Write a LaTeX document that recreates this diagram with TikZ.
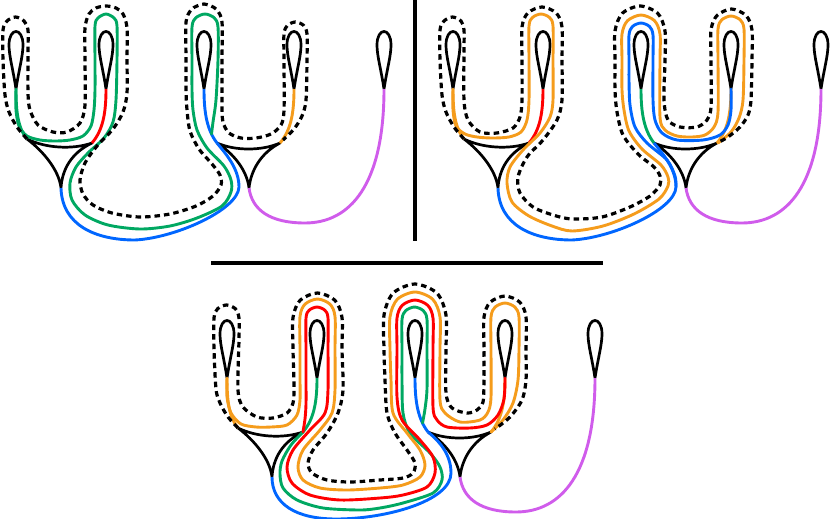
\documentclass[tikz,border=0pt]{standalone}
\definecolor{cgreen}{RGB}{0,168,98}
\definecolor{cred}{RGB}{255,0,0}
\definecolor{cblue}{RGB}{0,102,255}
\definecolor{corange}{RGB}{245,156,28}
\definecolor{cpurple}{RGB}{208,92,235}
\tikzset{
  skel/.style={line width=2.7pt,black,line join=round},
  edge/.style={line width=2.9pt,line join=round},
  crv/.style={line width=2.9pt,line join=round,line cap=round},
  dsh/.style={line width=3.2pt,black,dash pattern=on 5.5pt off 4pt},
  divider/.style={line width=4.2pt,black},
  teardrop/.pic={\draw[skel] (0,0) .. controls (-3,-20) and (-7,-33) .. (-7,-44) .. controls (-7,-62) and (7,-62) .. (7,-44) .. controls (7,-33) and (3,-20) .. (0,0);}
}
\newcommand\skeleton[4]{%
  \coordinate (La) at (16,89); \coordinate (Lb) at (106,89); \coordinate (Lc) at (204,89);
  \coordinate (Ld) at (294,89); \coordinate (Le) at (384,89);
  \coordinate (Pl) at (27,139); \coordinate (Pr) at (92,143); \coordinate (Pb) at (61,188);
  \coordinate (Ql) at (217,143); \coordinate (Qr) at (280,143); \coordinate (Qb) at (249,188);
  \foreach \p in {La,Lb,Lc,Ld,Le}{\pic at (\p) {teardrop};}
  \draw[skel] (Pl) .. controls (45,148) and (72,150) .. (Pr) .. controls (71,153) and (62,170) .. (Pb) .. controls (59,170) and (43,151) .. (Pl);
  \draw[skel] (Ql) .. controls (235,151) and (262,151) .. (Qr) .. controls (261,153) and (251,170) .. (Qb) .. controls (247,170) and (233,153) .. (Ql);
  \draw[edge,#1] (La) .. controls (16,112) and (18,128) .. (Pl);
  \draw[edge,#2] (Lb) .. controls (106,113) and (103,130) .. (Pr);
  \draw[edge,#3] (Lc) .. controls (204,113) and (207,130) .. (Ql);
  \draw[edge,#4] (Ld) .. controls (294,113) and (291,130) .. (Qr);
  \draw[edge,cpurple] (Qb) .. controls (252,210) and (270,223) .. (305,223) .. controls (350,223) and (384,185) .. (Le);
}
\begin{document}
\begin{tikzpicture}[x=1pt,y=-1pt]
\useasboundingbox (0,0) rectangle (830,519);
% dividers
\coordinate (v1) at (415,0); \coordinate (v2) at (415,241);
\coordinate (h1) at (211,263); \coordinate (h2) at (603,263);
\draw[divider] (v1) -- (v2);
\draw[divider] (h1) -- (h2);

% ================= TOP LEFT =================
\begin{scope}
\skeleton{cgreen}{cred}{cblue}{corange}
\draw[edge,cblue] (Pb) .. controls (62,225) and (95,240) .. (135,240) .. controls (175,238) and (238,210) .. (239,187) .. controls (239,168) and (225,153) .. (Ql);
\draw[crv,cgreen] plot[smooth] coordinates {(16,89) (16,110) (19,126) (27,136) (40,140) (55,141) (70,140) (83,136) (91,126) (94,110) (95,90) (95,60) (95,26) (98,18) (106,14) (114,18) (117,26) (117,60) (116,100) (113,122) (104,138) (88,153) (76,167) (70,183) (72,200) (85,215) (108,225) (140,229) (170,226) (197,218) (222,206) (231,192) (231,180) (224,166) (207,148) (197,130) (193,110) (192,90) (192,60) (192,27) (195.8,17.8) (205,14) (214.2,17.8) (218,27) (218,60) (216,100) (213,122) (211.5,134)};
\draw[dsh] plot[smooth] coordinates {(27,139) (17,127) (9,112) (5,95) (3,60) (3,30) (7,21) (15.5,17) (24,21) (28,30) (28,50) (28,93) (30,110) (38,125) (53,132) (67,132) (80,123) (85,105) (85,60) (85,28) (89,14) (96,8) (106,6) (116,8) (123,14) (127,28) (127,60) (127,93) (123,112) (113,129) (97,146) (85,163) (80,180) (83,194) (93,205) (112,213) (140,217) (170,214) (196,206) (213,196) (221,185) (220,175) (212,164) (199,149) (190,131) (187,110) (186,90) (186,60) (186,22) (191,10) (197,6) (204,4) (211,6) (217,10) (222,22) (222,60) (222,105) (223,122) (229,133) (241,138) (256,138) (271,134) (281,125) (284,110) (284,60) (284,34) (287.4,25.4) (295.5,22) (303.6,25.4) (307,34) (307,60) (306,100) (302,116) (294,129) (283,140)};
\end{scope}

% ================= TOP RIGHT =================
\begin{scope}[shift={(437,0)}]
\skeleton{corange}{cred}{cgreen}{corange}
\draw[edge,cblue] (Pb) .. controls (62,225) and (95,240) .. (135,240) .. controls (175,238) and (238,210) .. (239,187) .. controls (239,168) and (225,153) .. (Ql);
\draw[crv,corange] plot[smooth] coordinates {(16,89) (16,110) (19,126) (28,134) (40,137) (55,138) (72,137) (84,132) (90,120) (92,100) (92,60) (92,26) (95.5,17.5) (104,14) (112.5,17.5) (116,26) (116,60) (116,100) (113,117) (103,133) (86,150) (73,167) (70,183) (75,202) (92,216) (115,226) (135,231) (166,226) (197,214) (222,199) (231,186) (231,177) (224,165) (205,149) (192,131) (187,110) (185,90) (185,60) (185,34) (190.6,20.6) (204,15) (217.4,20.6) (223,34) (223,60) (223,117) (228,130) (240,136) (255,137) (268,135) (277,127) (281,112) (281,60) (281,29) (284.8,19.8) (294,16) (303.2,19.8) (307,29) (307,60) (306,100) (302,118) (294,132) (281,143)};
\draw[crv,cblue] plot[smooth] coordinates {(239,187) (238,176) (230,160) (210,143) (198,127) (193,105) (192,80) (192,60) (192,35) (195.5,26.5) (204,23) (212.5,26.5) (216,35) (216,60) (216,100) (218,120) (225,133) (240,140) (266,140) (283,135) (291,125) (294,110) (294,89)};
\draw[dsh] plot[smooth] coordinates {(27,139) (17,127) (9,112) (5,95) (3,60) (3,30) (7,21) (15.5,17) (24,21) (27,30) (27,50) (27,100) (31,120) (43,132) (60,133) (76,128) (83,117) (85,100) (85,60) (85,27) (90.9,12.9) (105,7) (119.1,12.9) (125,27) (125,60) (125,100) (120,120) (106,140) (90,157) (81,177) (83,193) (96,207) (116,215) (135,219) (165,217) (193,207) (213,196) (223,185) (223,176) (217,167) (201,154) (186,135) (180,112) (178,90) (178,60) (178,31) (185.3,13.3) (203,6) (220.7,13.3) (228,31) (228,60) (227,100) (231,120) (243,127) (260,127) (270,120) (274,107) (274,60) (274,30) (280,15.5) (294.5,9) (309,15.5) (315,30) (315,60) (314,100) (311,115) (303,127) (291,137) (282,142)};
\end{scope}

% ================= BOTTOM =================
\begin{scope}[shift={(211,289)}]
\skeleton{corange}{cgreen}{cblue}{corange}
\draw[edge,cblue] (Pb) .. controls (61,215) and (85,230) .. (125,230) .. controls (175,230) and (240,212) .. (240,184) .. controls (240,165) and (228,152) .. (Ql);
\draw[crv,cgreen] plot[smooth] coordinates {(92,143) (80,156) (71,172) (69,185) (72,199) (86,211) (112,219) (149,221) (169,219) (192,214) (222,204) (231,191) (229,178) (219,164) (199,144) (192,124) (191,91) (191,60) (191,30.5) (194.7,21.7) (203.5,18) (212.3,21.7) (216,30.5) (216,60) (216,100) (214,120) (211.5,134)};
\draw[crv,cred] plot[smooth] coordinates {(92,143) (94,130) (95,115) (95,90) (95,60) (95,29) (98.2,21.2) (106,18) (113.8,21.2) (117,29) (117,60) (117,101) (114,124) (99,141) (82,161) (76,178) (81,194) (99,206) (129,211) (169,209) (192,206) (216,198) (224,184) (222,168) (209,151) (191,131) (186,108) (186,60) (186,29) (191.3,16.3) (204,11) (216.7,16.3) (222,29) (222,60) (222,118) (226,131) (236,138) (259,139) (276,136) (287,126) (293,110) (294,89)};
\draw[crv,corange] plot[smooth] coordinates {(16,89) (16,108) (20,124) (30,135) (45,138) (60,138) (76,136) (86,126) (89,111) (89,91) (89,60) (89,27.5) (94.1,15.1) (106.5,10) (118.9,15.1) (124,27.5) (124,60) (124,101) (121,124) (109,141) (92,161) (87,178) (92,191) (109,199) (136,201) (169,199) (192,196) (209,188) (214,176) (209,161) (196,144) (182,124) (180,91) (179,60) (179,28) (186.3,10.3) (204,3) (221.7,10.3) (229,28) (229,60) (229,111) (234,124) (249,133) (269,131) (277,123) (280,108) (280,60) (280,28) (284.1,18.1) (294,14) (303.9,18.1) (308,28) (308,60) (307,91) (302,114) (292,131) (280,143)};
\draw[dsh] plot[smooth] coordinates {(27,139) (17,128) (9,114) (5,100) (3,60) (3,29) (6.7,19.7) (15.5,16) (24.3,19.7) (28,29) (28,50) (27,101) (32,118) (46,128) (62,129) (76,124) (82,114) (83,98) (82,60) (82,28.5) (89.2,11.2) (106.5,4) (123.8,11.2) (131,28.5) (131,60) (132,101) (127,124) (116,144) (102,161) (97,174) (101,184) (116,191) (139,193) (169,191) (192,189) (202,184) (204,174) (196,161) (184,144) (176,124) (174,91) (173,60) (173,26) (182.1,4.1) (204,-5) (225.9,4.1) (235,26) (235,60) (235,104) (241,119) (256,124) (266,121) (272,113) (273,91) (273,60) (273,28) (279.2,13.2) (294,7) (308.8,13.2) (315,28) (315,60) (315,91) (311,111) (299,128) (284,140)};
\end{scope}
\end{tikzpicture}
\end{document}
